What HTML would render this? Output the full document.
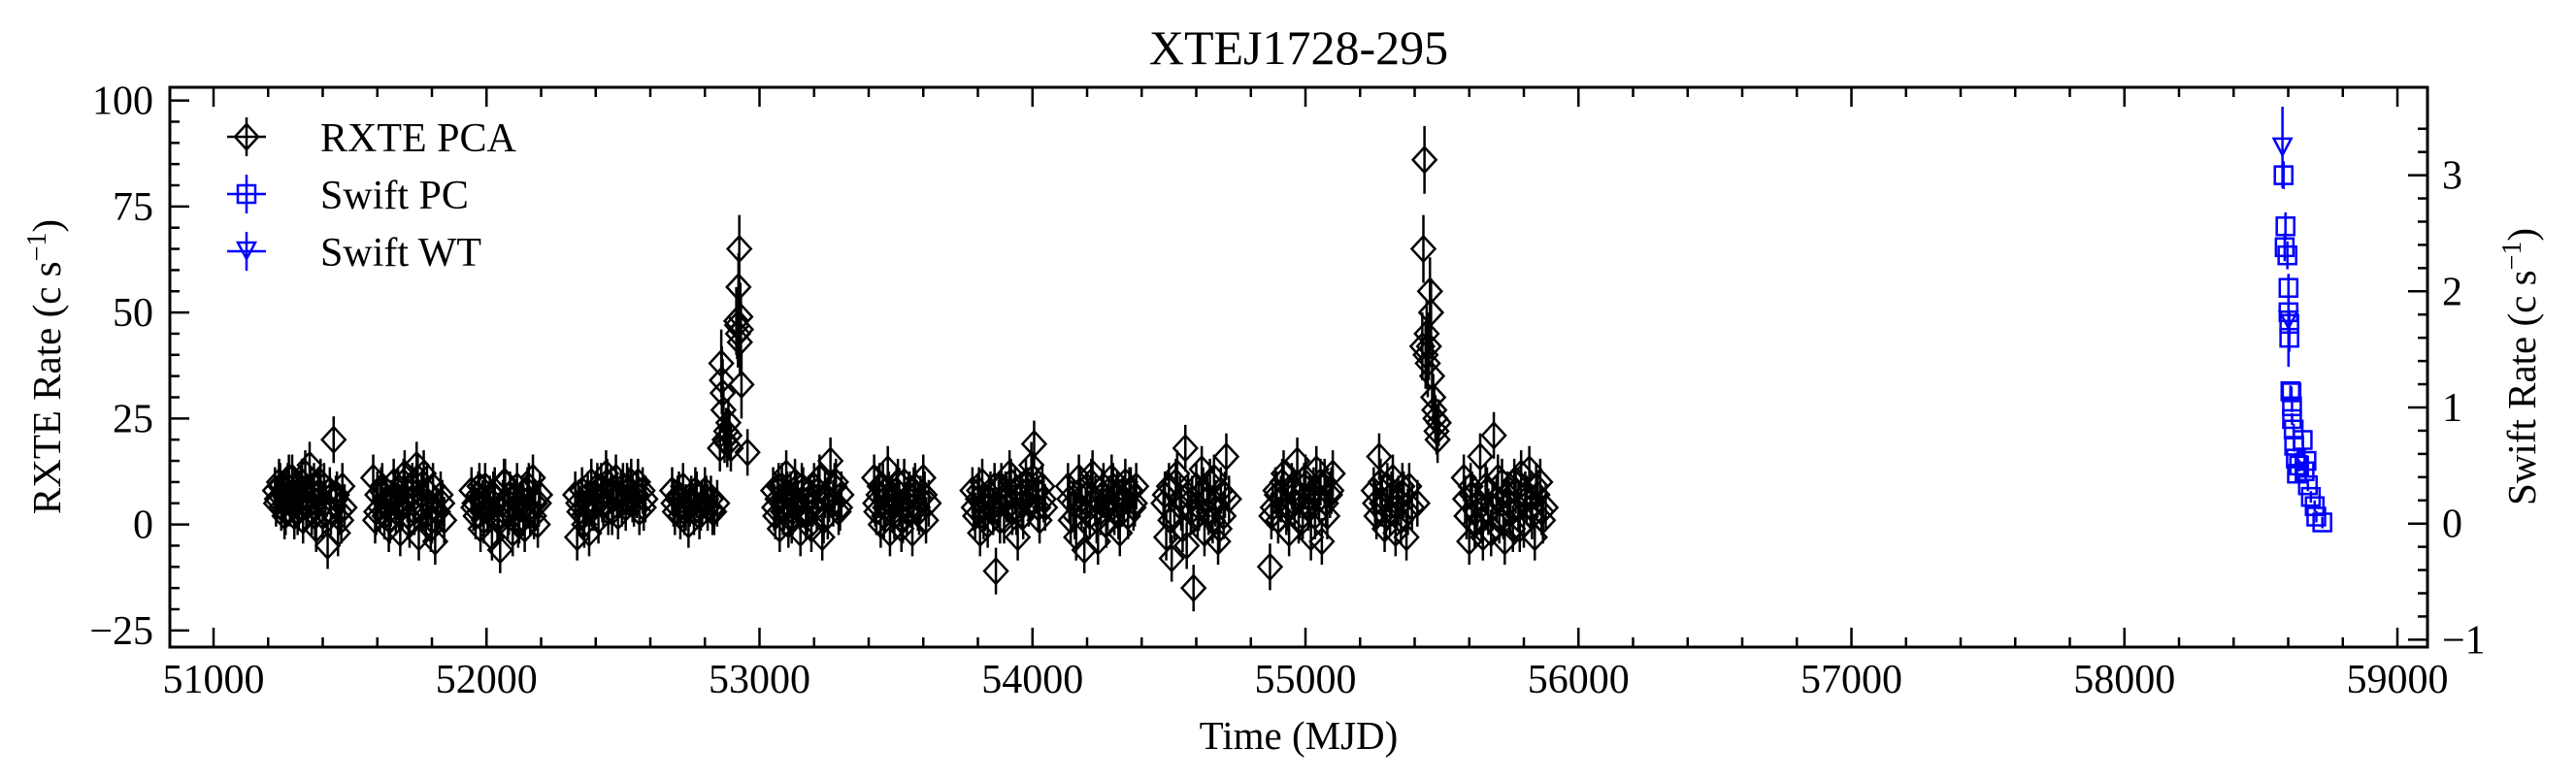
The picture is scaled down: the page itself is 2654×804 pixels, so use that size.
<!DOCTYPE html>
<html><head><meta charset="utf-8"><style>
html,body{margin:0;padding:0;background:#fff;}
svg{display:block;font-family:"Liberation Serif",serif;}
</style></head><body>
<svg id="chart" width="2654" height="804" viewBox="0 0 2654 804"></svg>
<script>
// RXTE PCA data (MJD, rate)
const rxteMjd = [51225,51232,51240,51248,51256,51264,51272,51280,51288,51296,51304,51312,51320,51328,51336,51344,51352,51360,51368,51376,51384,51392,51400,51410,51418,51426,51440,51448,51456,51464,51472,51480,
51585,51592,51600,51610,51618,51626,51634,51642,51650,51660,51668,51676,51684,51692,51700,51710,51718,51728,51736,51744,51752,51762,51770,51778,51786,51796,51804,51812,51822,51832,51845,
51945,51952,51960,51970,51978,51986,51995,52004,52012,52020,52030,52040,52050,52060,52068,52078,52086,52096,52104,52112,52120,52130,52140,52150,52160,52170,52178,52188,52196,
52325,52332,52340,52350,52358,52366,52376,52384,52394,52402,52410,52420,52428,52438,52446,52456,52464,52474,52482,52492,52500,52510,52520,52530,52540,52550,52560,52572,52582,
52680,52690,52700,52710,52720,52730,52740,52750,52760,52770,52780,52790,52800,52810,52822,52834,52845,
52855,52860,52862,52865,52868,52872,52878,52882,52886,52890,52895,52915,52918,52921,52923,52926,52928,52930,52932,52934,52956,
53050,53058,53066,53074,53082,53090,53098,53106,53114,53122,53130,53140,53150,53160,53170,53180,53190,53200,53210,53220,53230,53240,53250,53260,53270,53280,53290,53300,
53420,53428,53436,53444,53452,53460,53470,53478,53486,53494,53502,53512,53520,53530,53540,53550,53560,53570,53580,53590,53600,53610,53620,
53780,53790,53800,53808,53816,53826,53836,53846,53856,53866,53876,53886,53896,53906,53916,53926,53936,53946,53956,53966,53976,53986,53996,54006,54016,54026,54036,54046,
54130,54140,54150,54160,54170,54180,54190,54200,54210,54220,54230,54240,54250,54260,54270,54280,54290,54300,54310,54320,54330,54340,54350,54360,54370,54380,
54480,54490,54500,54510,54520,54530,54540,54550,54560,54570,54580,54590,54600,54610,54620,54630,54640,54650,54660,54670,54680,54690,54700,54710,54720,
54870,54880,54890,54900,54910,54920,54930,54940,54950,54960,54970,54980,54990,55000,55010,55020,55030,55040,55050,55060,55070,55080,55090,55100,
55250,55260,55270,55280,55290,55300,55310,55320,55330,55340,55350,55360,55370,55380,55390,55410,
55428,55432,55436,55440,55444,55448,55452,55456,55460,55464,55468,55472,55476,55480,55484,55488,
55580,55590,55600,55610,55620,55630,55640,55650,55660,55670,55680,55690,55700,55710,55720,55730,55740,55750,55760,55770,55780,55790,55800,55810,55820,55830,55840,55850,55860,55870,55880,
51229,51244,51260,51276,51292,51308,51324,51340,51356,51372,51388,51405,51430,51452,51468,
51596,51614,51630,51646,51664,51680,51696,51714,51732,51748,51766,51782,51800,51817,51838,
51956,51974,51990,52008,52025,52045,52064,52082,52100,52116,52135,52155,52174,52192,
52336,52354,52371,52389,52406,52424,52442,52460,52478,52496,52515,52535,52555,52576,
52685,52705,52725,52745,52765,52785,52805,52828,
53054,53070,53086,53102,53118,53135,53155,53175,53195,53215,53235,53255,53275,53295,
53424,53440,53456,53474,53490,53507,53525,53545,53565,53585,53605,
53785,53804,53821,53841,53861,53881,53901,53921,53941,53961,53981,54001,54021,54041,
54135,54155,54175,54195,54215,54235,54255,54275,54295,54315,54335,54355,54375,
54485,54505,54525,54545,54565,54585,54605,54625,54645,54665,54685,54705,
54875,54895,54915,54935,54955,54975,54995,55015,55035,55055,55075,55095,
55255,55275,55295,55315,55335,55355,55375,
55585,55605,55625,55645,55665,55685,55705,55725,55745,55765,55785,55805,55825,55845,55865];
const rxteRate = [8,6,10,4,7,3,9,5,11,2,7,4,8,1,12,6,14,3,9,-1,7,10,2,5,-5,8,20,6,-2,3,9,4,
11,1,7,4,9,2,6,-1,5,10,3,8,-2,4,12,6,0,9,3,14,-3,7,12,2,5,-1,9,-4,3,7,1,
8,4,2,7,-1,5,9,3,6,-3,8,1,-6,5,10,2,7,-2,4,9,1,6,-1,8,3,11,5,0,7,
7,-3,3,8,0,5,-2,10,4,7,1,9,5,12,3,8,6,11,2,7,9,4,8,10,5,7,3,8,6,
8,3,6,2,9,4,0,6,3,7,2,5,8,4,6,3,5,
18,38,34,31,27,20,22,19,24,21,18,48,47,45,56,65,43,49,46,33,17,
8,2,6,-1,9,4,12,0,7,3,10,5,-2,8,2,6,-1,9,4,11,-3,7,2,15,5,10,3,7,
11,3,7,0,9,4,13,-2,6,2,8,5,-1,10,3,7,-2,9,4,6,11,1,5,
8,2,6,-2,10,4,0,7,3,-11,5,9,1,6,12,3,8,-3,7,2,10,5,14,19,8,1,9,4,
9,1,5,-3,11,4,-6,7,2,12,6,-4,3,9,0,6,11,3,7,-2,5,10,2,8,4,9,
5,-3,9,-8,2,12,6,-1,18,7,3,-15,9,4,13,-2,6,10,1,5,-4,8,2,16,6,
-10,4,8,1,6,12,3,-2,9,5,15,7,2,11,4,-3,8,13,6,-4,10,2,7,12,
8,2,16,5,-1,9,3,11,-2,6,1,7,-3,9,4,5,
42,65,86,40,45,38,42,55,50,35,30,27,25,22,20,24,
11,2,-4,7,0,5,16,-3,9,3,-2,21,6,1,10,-4,7,3,-1,8,4,12,0,6,13,2,-3,7,10,1,4,
5,9,2,11,6,3,10,4,8,2,6,9,3,7,1,
3,8,5,1,7,4,10,2,6,11,4,8,1,3,5,
5,9,1,4,7,2,10,3,6,0,4,9,2,5,
5,2,7,4,9,6,10,3,7,5,9,6,10,4,
5,7,3,5,8,4,6,3,
4,9,3,7,1,6,9,3,5,8,1,6,9,4,
5,9,2,7,4,10,1,6,8,3,7,
4,8,2,6,9,1,7,10,3,5,8,11,4,6,
6,2,8,3,10,1,7,4,9,2,6,8,5,
7,1,10,4,-5,6,2,8,3,11,-1,7,
2,7,10,4,8,1,9,6,2,10,5,8,
5,10,2,7,4,9,3,
6,9,3,1,8,4,11,2,5,10,-1,7,4,9,3];
// Swift PC / WT
const pcMjd = [58583,58590,58587,58597,58601,58601,58604,58604,58608,58612,58614,58614,58620,58653,58622,58628,58667,58640,58632,58660,58672,58683,58697,58703,58725];
const pcRate = [3.0,2.56,2.38,2.31,2.03,1.82,1.72,1.60,1.14,1.13,1.01,0.90,0.81,0.72,0.67,0.56,0.54,0.50,0.43,0.45,0.33,0.23,0.15,0.06,0.01];
const wtMjd = [58579,58601];
const wtRate = [3.24,1.75];
const wtErr = [0.35,0.4];
const xTicks = [51000,52000,53000,54000,55000,56000,57000,58000,59000];
const yTicks = [-25,0,25,50,75,100];
const y2Ticks = [-1,0,1,2,3];

const L=175,R=2501,T=90,B=667;
const X=v=>220+(v-51000)*0.28125;
const Y=v=>540.6-v*4.37;
const Y2=v=>539.7-v*119.7;
const svg=document.getElementById('chart');
const NS='http://www.w3.org/2000/svg';
function mk(tag,attrs,parent){const e=document.createElementNS(NS,tag);for(const k in attrs)e.setAttribute(k,attrs[k]);(parent||svg).appendChild(e);return e;}

const gR=mk('g',{});


rxteMjd.forEach((m,i)=>{
  const x=X(m),y=Y(rxteRate[i]);const e=Math.abs(rxteRate[i])>30?8:5.5;
  const g=mk('g',{},gR);
  
  
  mk('line',{x1:x,x2:x,y1:Y(rxteRate[i]+e),y2:Y(rxteRate[i]-e),stroke:'#000','stroke-width':2.5},g);
  mk('path',{d:`M${x} ${y-13}L${x+12} ${y}L${x} ${y+13}L${x-12} ${y}Z`,fill:'none',stroke:'#000','stroke-width':2.5},g);
});
const gP=mk('g',{});


pcMjd.forEach((m,i)=>{
  const x=X(m),y=Y2(pcRate[i]);
  const g=mk('g',{},gP);
  
  
  const e=pcRate[i]>1.5?0.12:0.05;
  mk('line',{x1:x,x2:x,y1:Y2(pcRate[i]+e),y2:Y2(pcRate[i]-e),stroke:'#00f','stroke-width':2.5},g);
  mk('rect',{x:x-9,y:y-9,width:18,height:18,fill:'none',stroke:'#00f','stroke-width':2.5},g);
});
const gW=mk('g',{});


wtMjd.forEach((m,i)=>{
  const x=X(m),y=Y2(wtRate[i]);
  const g=mk('g',{},gW);
  
  
  mk('line',{x1:x,x2:x,y1:Y2(wtRate[i]+wtErr[i]),y2:Y2(wtRate[i]-wtErr[i]),stroke:'#00f','stroke-width':2.5},g);
  mk('path',{d:`M${x-9} ${y-9}L${x+9} ${y-9}L${x} ${y+8}Z`,fill:'none',stroke:'#00f','stroke-width':2.5},g);
});

const frame=mk('rect',{x:L,y:T,width:R-L,height:B-T,fill:'none',stroke:'#000','stroke-width':3});


for(let v=50800;v<=59100;v+=200){const x=X(v);if(x<L||x>R)continue;const major=v%1000===0;const len=major?20:10;
  mk('line',{x1:x,x2:x,y1:B,y2:B-len,stroke:'#000','stroke-width':2.5});
  mk('line',{x1:x,x2:x,y1:T,y2:T+len,stroke:'#000','stroke-width':2.5});}
xTicks.forEach(v=>{const t=mk('text',{x:X(v),y:714,'text-anchor':'middle','font-size':42});t.textContent=v;
  
  });
for(let v=-25;v<=100;v+=5){const y=Y(v);const major=v%25===0;mk('line',{x1:L,x2:L+(major?20:10),y1:y,y2:y,stroke:'#000','stroke-width':2.5});}
yTicks.forEach(v=>{const t=mk('text',{x:158,y:Y(v)+14,'text-anchor':'end','font-size':42});t.textContent=v<0?'\u2212'+Math.abs(v):v;
  
  });
for(let k=-5;k<=17;k++){const v=k*0.2;const y=Y2(v);if(y<T||y>B)continue;const major=k%5===0;mk('line',{x1:R,x2:R-(major?20:10),y1:y,y2:y,stroke:'#000','stroke-width':2.5});}
y2Ticks.forEach(v=>{const t=mk('text',{x:2516,y:Y2(v)+14,'text-anchor':'start','font-size':42});t.textContent=v<0?'\u2212'+Math.abs(v):v;
  
  });
</script>
<svg width="2654" height="804" style="position:absolute;left:0;top:0;font-family:'Liberation Serif',serif">
<text x="1338" y="66" text-anchor="middle" font-size="50">XTEJ1728-295</text>
<text x="1338" y="772" text-anchor="middle" font-size="41">Time (MJD)</text>
<text transform="translate(62,378) rotate(-90)" text-anchor="middle" font-size="41">RXTE Rate (c s<tspan dy="-15" font-size="28">−1</tspan><tspan dy="15">)</tspan></text>
<text transform="translate(2612,378) rotate(-90)" text-anchor="middle" font-size="41">Swift Rate (c s<tspan dy="-15" font-size="28">−1</tspan><tspan dy="15">)</tspan></text>
<g>
<g>
<line x1="234" x2="274" y1="141" y2="141" stroke="#000" stroke-width="2.5"/><line x1="254" x2="254" y1="121" y2="161" stroke="#000" stroke-width="2.5"/>
<path d="M254 128L266 141L254 154L242 141Z" fill="none" stroke="#000" stroke-width="2.5"/>
<text x="330" y="156" font-size="42">RXTE PCA</text></g>
<g>
<line x1="234" x2="274" y1="200" y2="200" stroke="#00f" stroke-width="2.5"/><line x1="254" x2="254" y1="180" y2="220" stroke="#00f" stroke-width="2.5"/>
<rect x="245" y="191" width="18" height="18" fill="none" stroke="#00f" stroke-width="2.5"/>
<text x="330" y="215" font-size="42">Swift PC</text></g>
<g>
<line x1="234" x2="274" y1="259" y2="259" stroke="#00f" stroke-width="2.5"/><line x1="254" x2="254" y1="239" y2="279" stroke="#00f" stroke-width="2.5"/>
<path d="M245 250L263 250L254 267Z" fill="none" stroke="#00f" stroke-width="2.5"/>
<text x="330" y="274" font-size="42">Swift WT</text></g>
</g>
</svg>
</body></html>
